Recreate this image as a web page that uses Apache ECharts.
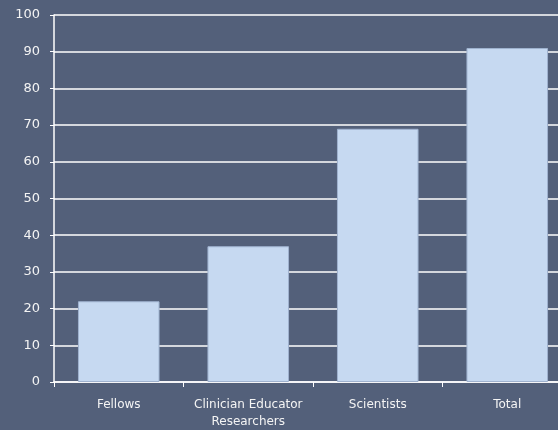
<!DOCTYPE html>
<html><head><meta charset="utf-8">
<script src="https://cdn.jsdelivr.net/npm/echarts@6/dist/echarts.min.js"></script>
<style>html,body{margin:0;padding:0;background:#53607a;overflow:hidden;width:558px;height:430px;}#c{width:572px;height:430px;}</style>
</head><body><div id="c"></div>
<script>
const categories = ["Fellows", "Clinician Educator\nResearchers", "Scientists", "Total"];
const values = [22, 37, 69, 91];
const yTicks = [0, 100, 10];

const chart = echarts.init(document.getElementById('c'));
chart.setOption({
  backgroundColor: '#53607a',
  animation: false,
  grid: { left: 54, right: 0, top: 15, bottom: 47 },
  xAxis: {
    type: 'category', data: categories,
    axisLine: { lineStyle: { color: '#ffffff', width: 1.5 } },
    axisTick: { show: true, length: 5, lineStyle: { color: '#ffffff' } },
    axisLabel: { interval: 0, color: '#f4f4f4', fontFamily: 'DejaVu Sans', fontSize: 12, lineHeight: 17, margin: 14 }
  },
  yAxis: {
    type: 'value', min: yTicks[0], max: yTicks[1], interval: yTicks[2],
    axisLine: { show: true, lineStyle: { color: '#ffffff', width: 1.5 } },
    axisTick: { show: true, length: 4, lineStyle: { color: '#ffffff' } },
    splitLine: { lineStyle: { color: '#ffffff', width: 1.5 } },
    axisLabel: { color: '#f4f4f4', fontFamily: 'DejaVu Sans', fontSize: 13, margin: 14 }
  },
  series: [{
    type: 'bar', data: values, barCategoryGap: '37%',
    itemStyle: { color: '#c6d9f1', borderColor: '#9fb2cf', borderWidth: 1 }
  }]
});
</script></body></html>
